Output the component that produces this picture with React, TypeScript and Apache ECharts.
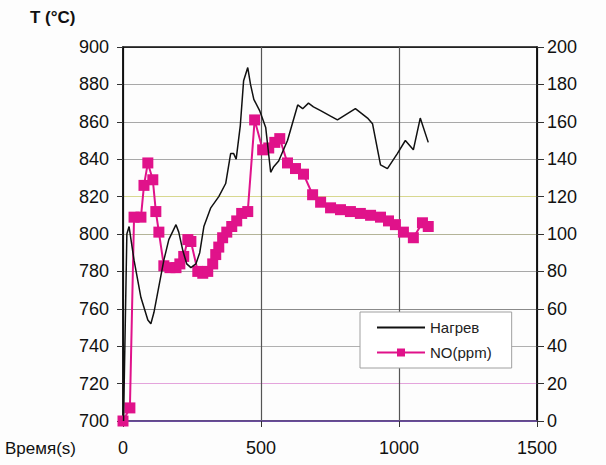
import React, { useEffect, useRef } from "react";
import * as echarts from "echarts";

const heatTime = [2, 14, 22, 40, 65, 90, 101, 112, 130, 148, 166, 192, 202, 217, 231, 246, 264, 278, 293, 318, 347, 372, 390, 401, 410, 425, 437, 452, 462, 474, 495, 517, 535, 546, 564, 596, 633, 651, 672, 690, 716, 752, 777, 842, 886, 904, 933, 958, 994, 1023, 1052, 1077, 1106];
const heatTemp = [700, 800, 804, 786, 766, 754, 752, 758, 772, 786, 797, 805, 801, 791, 784, 782, 784, 790, 804, 814, 820, 827, 843, 843, 840, 858, 882, 889, 880, 872, 866, 857, 833, 836, 839, 850, 869, 867, 870, 868, 866, 863, 861, 867, 862, 859, 837, 835, 843, 850, 845, 862, 849];

const noTime = [0, 25, 40, 65, 76, 90, 108, 119, 130, 148, 170, 192, 206, 220, 235, 246, 271, 289, 307, 325, 336, 347, 361, 376, 394, 412, 430, 452, 477, 506, 528, 550, 568, 596, 625, 654, 687, 716, 752, 788, 824, 860, 897, 933, 962, 987, 1016, 1052, 1085, 1106];
const noPpm = [0, 7, 109, 109, 126, 138, 129, 112, 101, 83, 82, 82, 84, 88, 97, 96, 80, 79, 80, 84, 89, 93, 98, 101, 104, 107, 111, 112, 161, 145, 146, 149, 151, 138, 135, 132, 121, 117, 114, 113, 112, 111, 110, 109, 107, 105, 101, 98, 106, 104];

const gridColors = ["#6a4c9c", "#e4a4dc", "#b0b0b0", "#8a8a8a", "#a8a8a8", "#b4b498", "#d8d890", "#a8a8a8", "#a8a8a8", "#a8a8a8", "#222"];

export default function App() {
  const ref = useRef<HTMLDivElement>(null);
  useEffect(() => {
    const chart = echarts.init(ref.current!, undefined, { renderer: "svg" });
    const font = "Liberation Sans, Arial, sans-serif";
    chart.setOption({
      animation: false,
      backgroundColor: "#fdfdfd",
      textStyle: { fontFamily: font },
      grid: { left: 123, right: 69, top: 47, bottom: 44, show: true, borderColor: "#111", borderWidth: 1.5, backgroundColor: "transparent" },
      graphic: [
        { type: "text", left: 30, top: 9, style: { text: "T (°C)", font: "bold 17px Liberation Sans, Arial, sans-serif", fill: "#111" } },
        { type: "text", left: 5, top: 440, style: { text: "Время(s)", font: "17px Liberation Sans, Arial, sans-serif", fill: "#111" } },
      ],
      legend: {
        orient: "vertical",
        left: 360,
        top: 312,
        backgroundColor: "#ffffff",
        borderColor: "#a0a0a0",
        borderWidth: 1,
        padding: [8, 20, 8, 16],
        itemGap: 10,
        itemWidth: 48,
        itemHeight: 10,
        textStyle: { fontSize: 15, color: "#222", fontFamily: font },
        data: [{ name: "Нагрев", itemStyle: { opacity: 0 } }, { name: "NO(ppm)" }],
      },
      xAxis: {
        type: "value",
        min: 0,
        max: 1500,
        interval: 500,
        axisLine: { show: true, lineStyle: { color: "#6a4c9c", width: 1.5 } },
        axisTick: { show: true, length: 6, lineStyle: { color: "#333" } },
        axisLabel: { fontSize: 18, color: "#111", margin: 18, fontFamily: font, formatter: (v: number) => String(v) },
        splitLine: { show: true, lineStyle: { color: ["#111", "#555", "#555", "#111"], width: 1.2 } },
      },
      yAxis: [
        {
          type: "value",
          min: 700,
          max: 900,
          interval: 20,
          axisLine: { show: true, lineStyle: { color: "#111", width: 1.5 } },
          axisTick: { show: true, length: 6, lineStyle: { color: "#333" } },
          axisLabel: { fontSize: 18, color: "#111", margin: 14, fontFamily: font },
          splitLine: { show: true, lineStyle: { color: gridColors, width: 1.2 } },
        },
        {
          type: "value",
          min: 0,
          max: 200,
          interval: 20,
          position: "right",
          axisLine: { show: true, lineStyle: { color: "#111", width: 1.5 } },
          axisTick: { show: true, length: 7, lineStyle: { color: "#333" } },
          axisLabel: { fontSize: 18, color: "#111", margin: 10, fontFamily: font },
          splitLine: { show: false },
        },
      ],
      series: [
        {
          name: "Нагрев",
          type: "line",
          yAxisIndex: 0,
          data: heatTime.map((t, i) => [t, heatTemp[i]]),
          symbol: "none",
          lineStyle: { color: "#111", width: 1.5 },
          itemStyle: { color: "#111" },
          z: 3,
        },
        {
          name: "NO(ppm)",
          type: "line",
          yAxisIndex: 1,
          data: noTime.map((t, i) => [t, noPpm[i]]),
          symbol: "rect",
          symbolSize: 11,
          showAllSymbol: true,
          lineStyle: { color: "#e0128a", width: 2 },
          itemStyle: { color: "#e0128a" },
          z: 2,
        },
      ],
    });
    return () => chart.dispose();
  }, []);
  return <div ref={ref} style={{ width: 606, height: 465, position: "absolute", left: 0, top: 0 }} />;
}
